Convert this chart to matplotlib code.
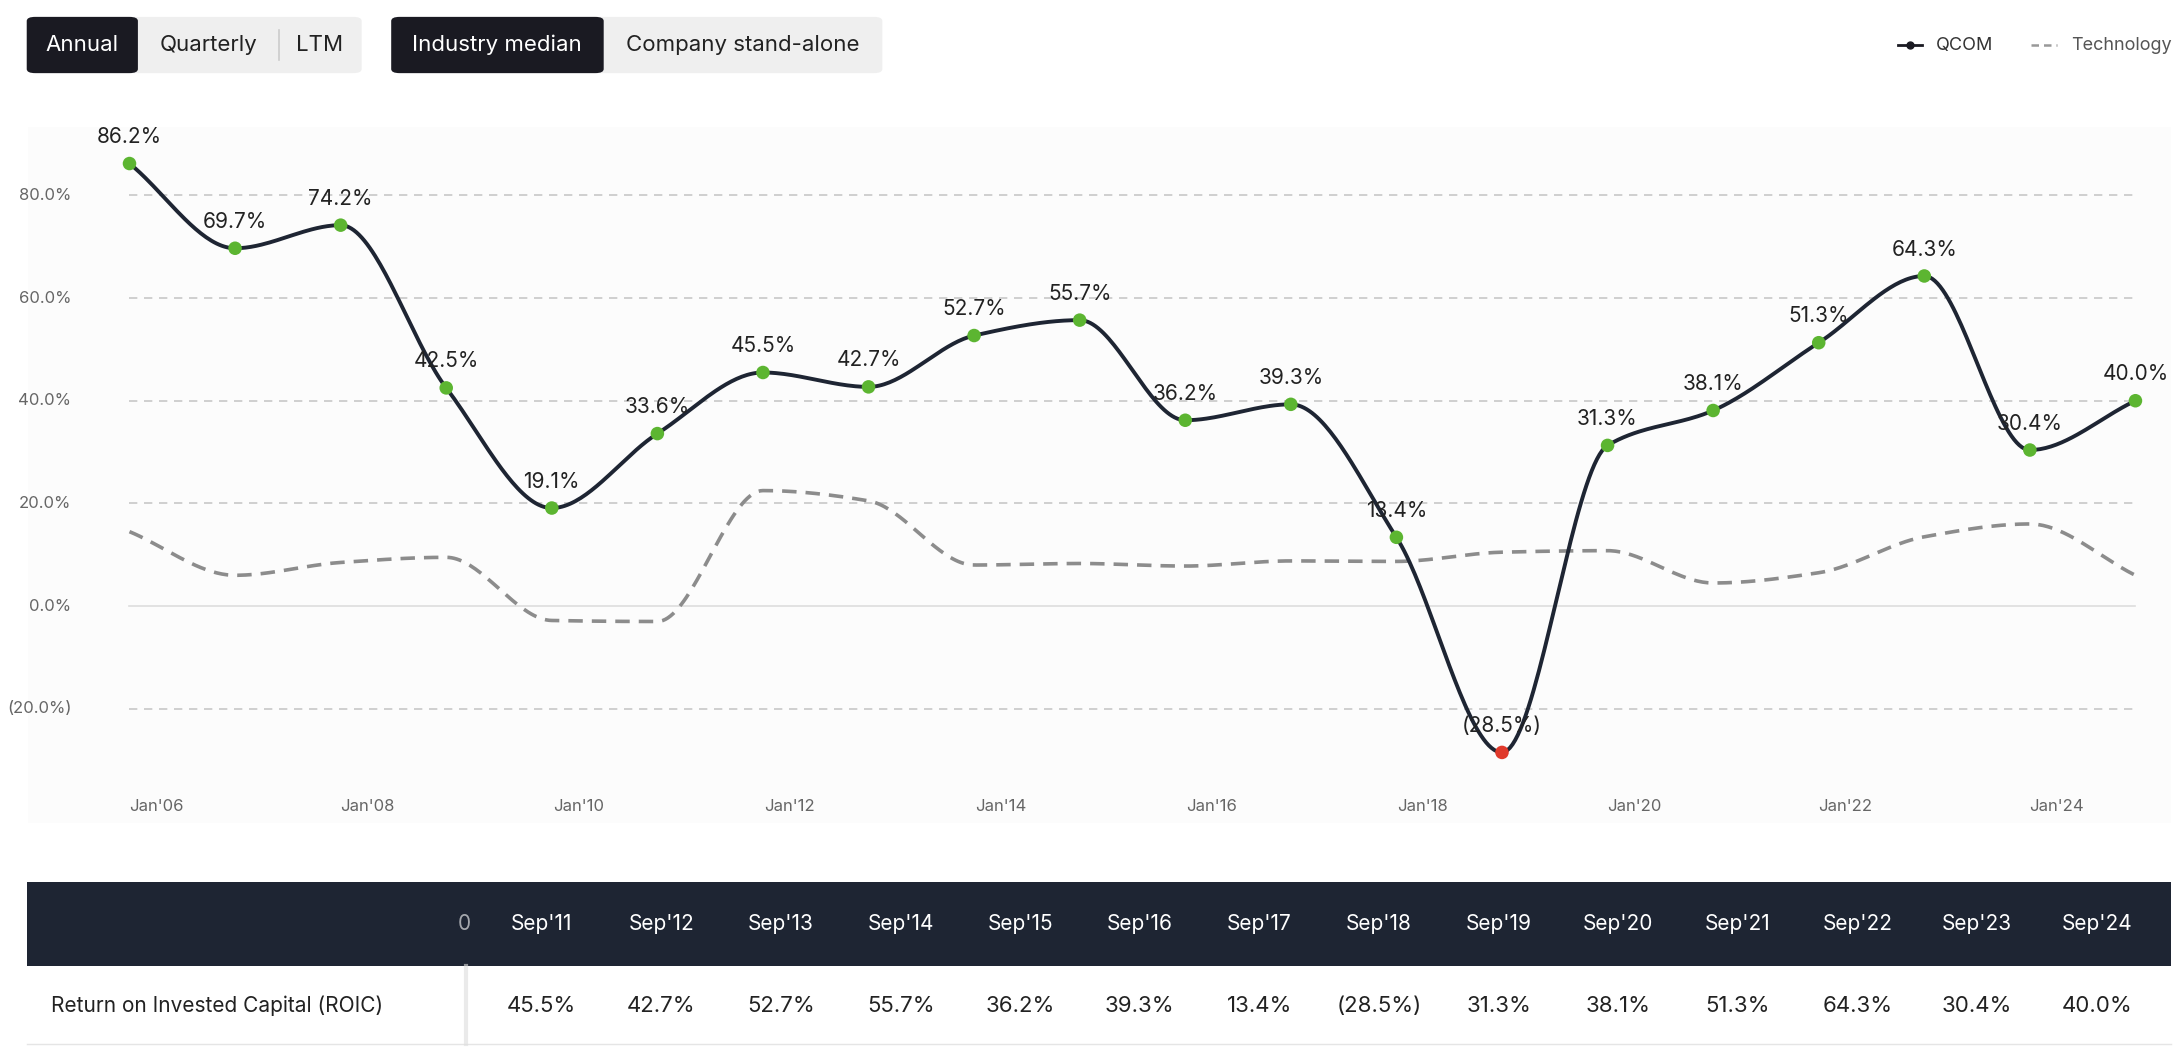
import numpy as np
import matplotlib
matplotlib.use("Agg")
import matplotlib.pyplot as plt
from matplotlib.patches import FancyBboxPatch, Rectangle
from matplotlib.lines import Line2D

plt.rcParams["font.family"] = "Inter"

years = [2005.75 + i for i in range(20)]
qcom = [86.2, 69.7, 74.2, 42.5, 19.1, 33.6, 45.5, 42.7, 52.7, 55.7,
        36.2, 39.3, 13.4, -28.5, 31.3, 38.1, 51.3, 64.3, 30.4, 40.0]
tech = [14.5, 6.0, 8.5, 9.5, -2.8, -3.0, 22.5, 20.5, 8.0, 8.3,
        7.8, 8.8, 8.7, 10.5, 10.8, 4.5, 6.5, 13.5, 16.0, 6.0]
xtick_years = [2006, 2008, 2010, 2012, 2014, 2016, 2018, 2020, 2022, 2024]
xtick_labels = ["Jan'06", "Jan'08", "Jan'10", "Jan'12", "Jan'14", "Jan'16", "Jan'18", "Jan'20", "Jan'22", "Jan'24"]
yticks = [-20, 0, 20, 40, 60, 80]
ytick_labels = ["(20.0%)", "0.0%", "20.0%", "40.0%", "60.0%", "80.0%"]
table_cols = ["Sep'11", "Sep'12", "Sep'13", "Sep'14", "Sep'15", "Sep'16", "Sep'17",
              "Sep'18", "Sep'19", "Sep'20", "Sep'21", "Sep'22", "Sep'23", "Sep'24"]
table_vals = ["45.5%", "42.7%", "52.7%", "55.7%", "36.2%", "39.3%", "13.4%",
              "(28.5%)", "31.3%", "38.1%", "51.3%", "64.3%", "30.4%", "40.0%"]

def pchip(x, y, n=40):
    x = np.asarray(x, float); y = np.asarray(y, float)
    h = np.diff(x); d = np.diff(y) / h
    m = np.zeros_like(y)
    for k in range(1, len(y) - 1):
        if d[k-1] * d[k] > 0:
            w1 = 2*h[k] + h[k-1]; w2 = h[k] + 2*h[k-1]
            m[k] = (w1 + w2) / (w1/d[k-1] + w2/d[k])
    m[0] = d[0]; m[-1] = d[-1]
    xs, ys = [], []
    for k in range(len(h)):
        t = np.linspace(0, 1, n, endpoint=False)
        h00 = 2*t**3 - 3*t**2 + 1; h10 = t**3 - 2*t**2 + t
        h01 = -2*t**3 + 3*t**2; h11 = t**3 - t**2
        xs.append(x[k] + t*h[k])
        ys.append(h00*y[k] + h10*h[k]*m[k] + h01*y[k+1] + h11*h[k]*m[k+1])
    xs.append([x[-1]]); ys.append([y[-1]])
    return np.concatenate(xs), np.concatenate(ys)

W, H = 1552.0, 748.0
fig = plt.figure(figsize=(21.84, 10.52), dpi=100)

def fx(px): return px / W
def fy(py): return 1 - py / H

# axes
ax = fig.add_axes([fx(20), fy(585), fx(1543) - fx(20), fy(90) - fy(585)])
ax.set_facecolor("#fcfcfc")
ax.set_xlim(2004.79, 2025.09)
ax.set_ylim(-42.2, 93.4)
for s in ax.spines.values():
    s.set_visible(False)
for v in yticks:
    if v == 0:
        ax.plot([2005.75, 2024.75], [0, 0], color="#dddddd", lw=1.2, zorder=1)
    else:
        ax.plot([2005.75, 2024.75], [v, v], color="#c8c8c8", lw=1.2, ls=(0, (5, 4)), zorder=1)
ax.set_xticks([]); ax.set_yticks([])
for v, l in zip(yticks, ytick_labels):
    ax.text(2005.2, v, l, ha="right", va="center", fontsize=12, color="#666666")
for v, l in zip(xtick_years, xtick_labels):
    ax.text(v, -39, l, ha="center", va="center", fontsize=12, color="#666666")

tx, ty = pchip(years, tech)
ax.plot(tx, ty, color="#8c8c8c", lw=2.6, ls=(0, (4, 2.5)), zorder=2)
qx, qy = pchip(years, qcom)
ax.plot(qx, qy, color="#1e2533", lw=2.8, zorder=3)
cols = ["#e0392b" if v < 0 else "#5cb531" for v in qcom]
ax.scatter(years, qcom, s=95, c=cols, zorder=4, linewidths=0)
for x, v in zip(years, qcom):
    lab = f"({abs(v):.1f}%)" if v < 0 else f"{v:.1f}%"
    ax.text(x, v + 3.2, lab, ha="center", va="bottom", fontsize=15, color="#222222", zorder=5)

# buttons
def box(x0, y0, x1, y1, fc, r=6):
    p = FancyBboxPatch((fx(x0), fy(y1)), fx(x1) - fx(x0), fy(y0) - fy(y1),
                       boxstyle=f"round,pad=0,rounding_size={r/W}", transform=fig.transFigure,
                       fc=fc, ec="none", mutation_aspect=W / H * 10.52 / 21.84)
    fig.patches.append(p)
box(19, 12, 257, 52, "#efefef")
box(19, 12, 98, 52, "#1a1a22")
box(278, 12, 627, 52, "#efefef")
box(278, 12, 429, 52, "#1a1a22")
fig.add_artist(Line2D([fx(198), fx(198)], [fy(21), fy(43)], color="#cccccc", lw=1.2))
for x, t, c in [(58, "Annual", "white"), (148, "Quarterly", "#222"), (227, "LTM", "#222"),
                (353, "Industry median", "white"), (528, "Company stand-alone", "#222")]:
    fig.text(fx(x), fy(32), t, ha="center", va="center", fontsize=16, color=c)

# legend
fig.add_artist(Line2D([fx(1349), fx(1366)], [fy(32), fy(32)], color="#1a1a22", lw=2))
fig.add_artist(Line2D([fx(1357.5)], [fy(32)], marker="o", ms=5, color="#1a1a22"))
fig.text(fx(1376), fy(32), "QCOM", va="center", fontsize=13, color="#333")
fig.add_artist(Line2D([fx(1443), fx(1462)], [fy(32), fy(32)], color="#999", lw=1.8, ls=(0, (3, 2))))
fig.text(fx(1472), fy(32), "Technology", va="center", fontsize=13, color="#555")

# table
fig.add_artist(Rectangle((fx(19), fy(687)), fx(1543) - fx(19), fy(627) - fy(687),
                         transform=fig.transFigure, fc="#1e2533", ec="none"))
fig.add_artist(Rectangle((fx(19), fy(742)), fx(1543) - fx(19), fy(687) - fy(742),
                         transform=fig.transFigure, fc="white", ec="none"))
fig.add_artist(Line2D([fx(19), fx(1543)], [fy(742), fy(742)], color="#e5e5e5", lw=1))
fig.add_artist(Line2D([fx(331), fx(331)], [fy(687), fy(742)], color="#dddddd", lw=3, alpha=0.6))
fig.text(fx(36), fy(715), "Return on Invested Capital (ROIC)", va="center", fontsize=15, color="#222")
fig.text(fx(330), fy(657), "0", ha="center", va="center", fontsize=15, color="white", alpha=0.6)
colx = [385 + 85.0 * i for i in range(14)]
for x, c, v in zip(colx, table_cols, table_vals):
    fig.text(fx(x), fy(657), c, ha="center", va="center", fontsize=15, color="white")
    fig.text(fx(x), fy(715), v, ha="center", va="center", fontsize=16, color="#222")

fig.savefig("out.png", dpi=100, facecolor="white")
